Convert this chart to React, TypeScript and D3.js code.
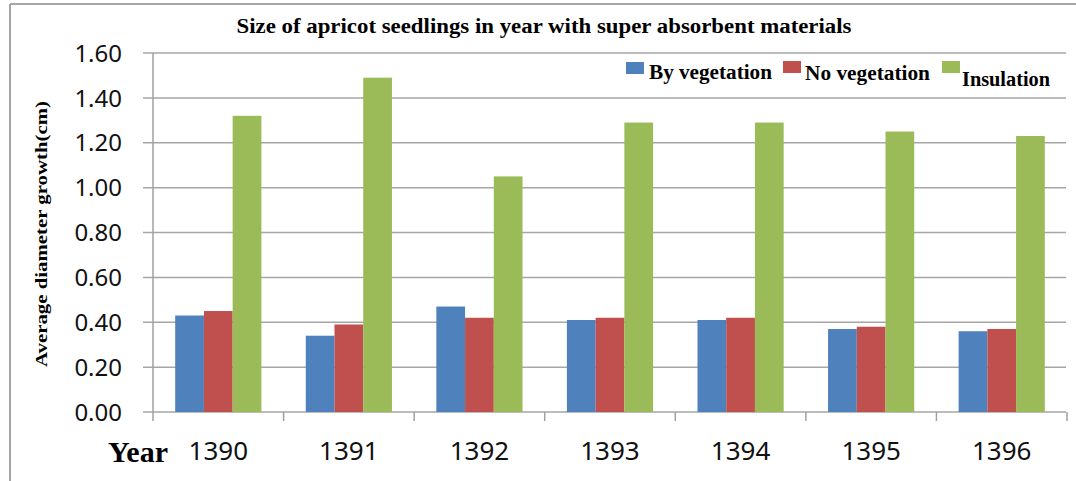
import React from "react";
import * as d3 from "d3";

const years = ["1390", "1391", "1392", "1393", "1394", "1395", "1396"];
const byVegetation = [0.43, 0.34, 0.47, 0.41, 0.41, 0.37, 0.36];
const noVegetation = [0.45, 0.39, 0.42, 0.42, 0.42, 0.38, 0.37];
const insulation = [1.32, 1.49, 1.05, 1.29, 1.29, 1.25, 1.23];
const seriesNames = ["By vegetation", "No vegetation", "Insulation"];
const seriesColors = ["#4F81BD", "#C0504D", "#9BBB59"];
const yTicks = [0, 0.2, 0.4, 0.6, 0.8, 1.0, 1.2, 1.4, 1.6];
const title = "Size of apricot seedlings in year with super absorbent materials";
const yTitle = "Average diameter growth(cm)";
const xTitle = "Year";

const W = 1076;
const H = 481;
const plot = { left: 153, right: 1067, top: 53, bottom: 412 };

export default function App() {
  const series = [byVegetation, noVegetation, insulation];
  const x = d3.scaleBand<string>().domain(years).range([plot.left, plot.right]).paddingInner(0).paddingOuter(0);
  const y = d3.scaleLinear().domain([0, 1.6]).range([plot.bottom, plot.top]);
  const groupW = x.bandwidth() * 0.66;
  const x1 = d3.scaleBand<number>().domain([0, 1, 2]).range([0, groupW]);
  const serif = "'Liberation Serif', 'Times New Roman', serif";
  const sans = "'Noto Sans', 'Open Sans', sans-serif";

  const legendItems = [
    { sx: 626, sy: 62, tx: 649, ty: 79, tl: 123 },
    { sx: 783, sy: 61, tx: 805, ty: 80, tl: 125 },
    { sx: 942, sy: 61, tx: 962, ty: 86, tl: 88 },
  ];

  return (
    <svg width={W} height={H} style={{ position: "fixed", left: 0, top: 0, background: "#fff" }}>
      <rect x={0} y={0} width={W} height={H} fill="#fff" />
      {/* outer frame (top and left visible) */}
      <line x1={10} y1={4} x2={W} y2={4} stroke="#a6a6a6" strokeWidth={2} />
      <line x1={10} y1={4} x2={10} y2={H} stroke="#a6a6a6" strokeWidth={2} />

      {/* gridlines */}
      {yTicks.map((t) => (
        <line key={"g" + t} x1={plot.left - 10} x2={plot.right - 1} y1={y(t)} y2={y(t)} stroke="#a6a6a6" strokeWidth={1.5} />
      ))}
      {/* y axis */}
      <line x1={plot.left} x2={plot.left} y1={plot.top} y2={plot.bottom + 9} stroke="#a0a0a0" strokeWidth={1.5} />
      {/* x tick marks */}
      {years.map((yr) => (
        <line key={"xt" + yr} x1={x(yr)! + x.bandwidth()} x2={x(yr)! + x.bandwidth()} y1={plot.bottom} y2={plot.bottom + 9} stroke="#a0a0a0" strokeWidth={1.5} />
      ))}

      {/* bars */}
      {years.map((yr, i) => (
        <g key={"b" + yr} transform={`translate(${x(yr)! + (x.bandwidth() - groupW) / 2},0)`}>
          {series.map((s, k) => (
            <rect
              key={k}
              x={x1(k)!}
              y={y(s[i])}
              width={x1.bandwidth()}
              height={y(0) - y(s[i])}
              fill={seriesColors[k]}
            />
          ))}
        </g>
      ))}

      {/* y tick labels */}
      {yTicks.map((t) => (
        <text key={"yl" + t} x={122} y={y(t)} dy="0.36em" textAnchor="end" fontFamily={sans} fontSize={24} fill="#111">
          {t.toFixed(2)}
        </text>
      ))}

      {/* x tick labels */}
      {years.map((yr) => (
        <text key={"xl" + yr} x={x(yr)! + x.bandwidth() / 2} y={460} textAnchor="middle" fontFamily={sans} fontSize={26} fill="#111">
          {yr}
        </text>
      ))}

      {/* x title */}
      <text x={108} y={462} fontFamily={serif} fontWeight="bold" fontSize={30} fill="#000">
        {xTitle}
      </text>

      {/* title */}
      <text x={544} y={33} textAnchor="middle" fontFamily={serif} fontWeight="bold" fontSize={20} textLength={615} lengthAdjust="spacingAndGlyphs" fill="#000">
        {title}
      </text>

      {/* y title */}
      <text transform="translate(47,234) rotate(-90)" textAnchor="middle" fontFamily={serif} fontWeight="bold" fontSize={17.5} textLength={266} lengthAdjust="spacingAndGlyphs" fill="#000">
        {yTitle}
      </text>

      {/* legend */}
      {seriesNames.map((n, k) => (
        <g key={"lg" + n}>
          <rect x={legendItems[k].sx} y={legendItems[k].sy} width={18} height={12} fill={seriesColors[k]} />
          <text x={legendItems[k].tx} y={legendItems[k].ty} fontFamily={serif} fontWeight="bold" fontSize={20.5} textLength={legendItems[k].tl} lengthAdjust="spacingAndGlyphs" fill="#000">
            {n}
          </text>
        </g>
      ))}
    </svg>
  );
}
